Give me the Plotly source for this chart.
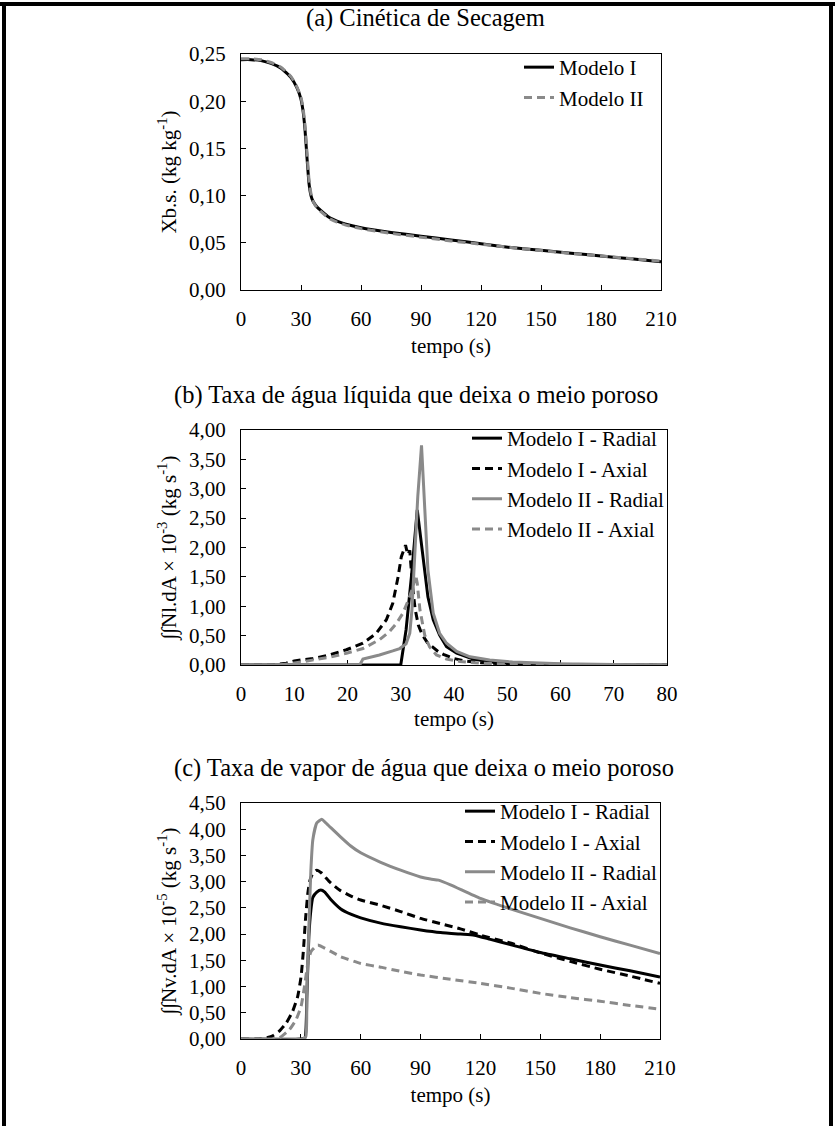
import plotly.graph_objects as go

# ---------------- data ----------------
# (a) drying kinetics
t_a = [0, 5, 10, 15, 20, 25, 28, 30, 31, 32, 33, 34, 35, 36, 38, 40, 44, 48, 52, 60,
       75, 90, 105, 120, 135, 150, 165, 180, 195, 210]
xbs_m1 = [0.244, 0.244, 0.243, 0.240, 0.235, 0.225, 0.214, 0.202, 0.190, 0.170, 0.140,
          0.113, 0.100, 0.094, 0.088, 0.084, 0.077, 0.073, 0.070, 0.066,
          0.061, 0.057, 0.053, 0.049, 0.045, 0.042, 0.039, 0.036, 0.033, 0.030]
xbs_m2 = [0.245, 0.245, 0.244, 0.241, 0.236, 0.226, 0.215, 0.204, 0.193, 0.175, 0.146,
          0.117, 0.102, 0.094, 0.087, 0.083, 0.076, 0.072, 0.069, 0.065,
          0.060, 0.056, 0.052, 0.0485, 0.045, 0.0418, 0.0388, 0.036, 0.0333, 0.0307]

# (b) liquid water rate (x 10^-3 kg/s)
t_b_m1r = [0, 29, 30, 31, 32, 33.1, 34.2, 35.1, 36.1, 37.3, 38.6, 40.5, 43.6, 48, 55, 60, 70, 80]
nl_m1r = [0, 0, 0, 0.6, 1.5, 2.64, 1.84, 1.16, 0.77, 0.51, 0.31, 0.20, 0.10, 0.04, 0.015, 0.008, 0.002, 0]

t_b_m1a = [0, 6, 8.5, 10, 13.5, 16.6, 19.8, 22.9, 25.4, 27.3, 28.5, 29.5, 30.1, 30.9, 31.3,
           31.7, 32.2, 32.7, 33.3, 34, 35, 36, 37, 38, 40, 42, 45, 50, 60, 80]
nl_m1a = [0, 0, 0.03, 0.07, 0.11, 0.17, 0.26, 0.37, 0.54, 0.77, 1.05, 1.5, 1.84, 2.04, 1.88,
          1.95, 1.35, 0.95, 0.68, 0.52, 0.38, 0.30, 0.23, 0.18, 0.11, 0.07, 0.04, 0.015, 0.005, 0]

t_b_m2r = [0, 22.3, 22.9, 26, 28.5, 29.8, 31, 31.7, 32.1, 32.6, 33.2, 33.9, 34.5, 35.1, 36.1,
           37.3, 38.6, 40.5, 43, 46.7, 51, 57.4, 60, 70, 80]
nl_m2r = [0, 0, 0.10, 0.17, 0.24, 0.28, 0.36, 0.54, 0.94, 1.84, 2.87, 3.74, 2.75, 1.62, 0.88,
          0.54, 0.37, 0.23, 0.14, 0.085, 0.05, 0.03, 0.02, 0.008, 0.003]

t_b_m2a = [0, 7, 9, 13.5, 16.6, 19.8, 22.9, 26, 27.9, 29.2, 30.4, 31.4, 32.3, 32.8, 33.1,
           33.6, 34.5, 35.4, 36.7, 38.6, 41.1, 45, 50, 60, 80]
nl_m2a = [0, 0, 0.02, 0.085, 0.13, 0.20, 0.28, 0.43, 0.57, 0.71, 0.88, 1.10, 1.33, 1.53, 1.39,
          0.94, 0.51, 0.31, 0.17, 0.10, 0.06, 0.03, 0.015, 0.005, 0]

# (c) vapour rate (x 10^-5 kg/s)
t_c_m1r = [0, 30, 32, 33, 34, 35, 36, 38, 40, 42, 45, 50, 55, 60, 70, 80, 90, 100, 110, 117,
           125, 135, 150, 165, 180, 195, 210]
nv_m1r = [0, 0, 0.02, 0.8, 1.95, 2.45, 2.70, 2.80, 2.84, 2.80, 2.66, 2.48, 2.38, 2.31, 2.21,
          2.14, 2.08, 2.03, 2.00, 1.98, 1.90, 1.80, 1.65, 1.53, 1.41, 1.30, 1.18]

t_c_m1a = [0, 10, 15.9, 19.2, 22.6, 25.9, 28.4, 30.1, 31.3, 32.3, 33.5, 34.6, 36, 38, 40.2,
           44.3, 49.4, 56, 60, 70, 80, 90, 100, 110, 120, 135, 150, 165, 180, 195, 210]
nv_m1a = [0, 0, 0.06, 0.15, 0.30, 0.53, 0.81, 1.19, 1.70, 2.27, 2.78, 3.03, 3.16, 3.22, 3.17,
          3.00, 2.84, 2.71, 2.65, 2.55, 2.43, 2.30, 2.20, 2.10, 1.98, 1.83, 1.64, 1.48, 1.33,
          1.20, 1.06]

t_c_m2r = [0, 31, 32.5, 33, 34, 35, 36, 38, 40.5, 42, 45, 50, 55, 60, 70, 80, 90, 95, 99,
           105, 120, 135, 150, 165, 180, 195, 210]
nv_m2r = [0, 0, 0.05, 0.9, 2.1, 3.2, 3.8, 4.12, 4.19, 4.14, 4.03, 3.85, 3.68, 3.55, 3.37,
          3.22, 3.09, 3.05, 3.03, 2.94, 2.68, 2.48, 2.30, 2.12, 1.95, 1.79, 1.63]

t_c_m2a = [0, 15, 19.2, 24.3, 27.6, 30.1, 31.8, 33.5, 35.1, 37.7, 38.5, 41, 45, 50, 60, 70,
           80, 90, 105, 120, 135, 150, 165, 180, 195, 210]
nv_m2a = [0, 0, 0.02, 0.18, 0.37, 0.62, 1.00, 1.44, 1.67, 1.77, 1.79, 1.75, 1.67, 1.57, 1.44,
          1.37, 1.29, 1.22, 1.14, 1.06, 0.97, 0.87, 0.79, 0.72, 0.64, 0.57]

# tick labels
xt_a = [0, 30, 60, 90, 120, 150, 180, 210]
xt_b = [0, 10, 20, 30, 40, 50, 60, 70, 80]
yt_a = [0, 0.05, 0.10, 0.15, 0.20, 0.25]
yl_a = ["0,00", "0,05", "0,10", "0,15", "0,20", "0,25"]
yt_b = [0, 0.5, 1, 1.5, 2, 2.5, 3, 3.5, 4]
yl_b = ["0,00", "0,50", "1,00", "1,50", "2,00", "2,50", "3,00", "3,50", "4,00"]
yt_c = [0, 0.5, 1, 1.5, 2, 2.5, 3, 3.5, 4, 4.5]
yl_c = ["0,00", "0,50", "1,00", "1,50", "2,00", "2,50", "3,00", "3,50", "4,00", "4,50"]

# ---------------- layout geometry ----------------
W, H = 835, 1126
L, R, T, B = 241, 168, 54, 87
PW, PH = W - L - R, H - T - B


def px(x):
    return (x - L) / PW


def py(y):
    return (H - B - y) / PH


FONT = "Liberation Serif, Times New Roman, serif"
BLACK = "#000000"
GRAY = "#8a8a8a"
DASH = "8px,5px"
LW = 3

fig = go.Figure()


def add(x, y, name, color, dash, xa, ya, leg, shape="linear"):
    fig.add_trace(go.Scatter(
        x=x, y=y, name=name, mode="lines", xaxis=xa, yaxis=ya, legend=leg,
        line=dict(color=color, width=LW, dash=dash, shape=shape,
                  smoothing=0.5 if shape == "spline" else None),
    ))


add(t_a, xbs_m1, "Modelo I", BLACK, "solid", "x", "y", "legend", "spline")
add(t_a, xbs_m2, "Modelo II", GRAY, DASH, "x", "y", "legend", "spline")

add(t_b_m1r, nl_m1r, "Modelo I - Radial", BLACK, "solid", "x2", "y2", "legend2")
add(t_b_m1a, nl_m1a, "Modelo I - Axial", BLACK, DASH, "x2", "y2", "legend2")
add(t_b_m2r, nl_m2r, "Modelo II - Radial", GRAY, "solid", "x2", "y2", "legend2")
add(t_b_m2a, nl_m2a, "Modelo II - Axial", GRAY, DASH, "x2", "y2", "legend2")

add(t_c_m1r, nv_m1r, "Modelo I - Radial", BLACK, "solid", "x3", "y3", "legend3", "spline")
add(t_c_m1a, nv_m1a, "Modelo I - Axial", BLACK, DASH, "x3", "y3", "legend3", "spline")
add(t_c_m2r, nv_m2r, "Modelo II - Radial", GRAY, "solid", "x3", "y3", "legend3", "spline")
add(t_c_m2a, nv_m2a, "Modelo II - Axial", GRAY, DASH, "x3", "y3", "legend3", "spline")

axis_common = dict(
    showline=True, mirror=True, linecolor=BLACK, linewidth=1,
    ticks="inside", ticklen=5, tickwidth=1, tickcolor=BLACK,
    showgrid=False, zeroline=False, ticklabelstandoff=10,
    tickfont=dict(family=FONT, size=21, color=BLACK),
)
title_font = dict(family=FONT, size=21, color=BLACK)

doms_y = {"a": [py(290), py(54)], "b": [py(665), py(430)], "c": [py(1039), py(803)]}

fig.update_layout(
    width=W, height=H,
    margin=dict(l=L, r=R, t=T, b=B, pad=0),
    paper_bgcolor="white", plot_bgcolor="white",
    font=dict(family=FONT, size=21, color=BLACK),
    xaxis=dict(axis_common, domain=[0, px(661)], range=[0, 210], tickvals=xt_a,
               anchor="y", title=dict(text="tempo (s)", font=title_font, standoff=8)),
    yaxis=dict(axis_common, domain=doms_y["a"], range=[0, 0.25], tickvals=yt_a,
               ticktext=yl_a, anchor="x",
               title=dict(text="Xb.s. (kg kg<sup>-1</sup>)", font=title_font, standoff=6)),
    xaxis2=dict(axis_common, domain=[0, 1], range=[0, 80], tickvals=xt_b, anchor="y2",
                layer="below traces",
                title=dict(text="tempo (s)", font=title_font, standoff=6)),
    yaxis2=dict(axis_common, domain=doms_y["b"], range=[0, 4], tickvals=yt_b,
                ticktext=yl_b, anchor="x2", layer="below traces",
                title=dict(text="∫∫Nl.dA × 10<sup>-3</sup> (kg s<sup>-1</sup>)",
                           font=title_font, standoff=6)),
    xaxis3=dict(axis_common, domain=[0, px(660)], range=[0, 210], tickvals=xt_a,
                anchor="y3", layer="below traces",
                title=dict(text="tempo (s)", font=title_font, standoff=8)),
    yaxis3=dict(axis_common, domain=doms_y["c"], range=[0, 4.5], tickvals=yt_c,
                ticktext=yl_c, anchor="x3", layer="below traces",
                title=dict(text="∫∫Nv.dA × 10<sup>-5</sup> (kg s<sup>-1</sup>)",
                           font=title_font, standoff=6)),
    showlegend=True,
)

leg_common = dict(bgcolor="rgba(0,0,0,0)", borderwidth=0,
                  font=dict(family=FONT, size=21, color=BLACK),
                  xanchor="right", yanchor="top", tracegroupgap=0)
fig.update_layout(
    legend=dict(leg_common, x=px(649), y=py(47)),
    legend2=dict(leg_common, x=px(670), y=py(418)),
    legend3=dict(leg_common, x=px(663), y=py(791)),
)

# panel titles
titles = [("(a) Cinética de Secagem", 425, 18),
          ("(b) Taxa de água líquida que deixa o meio poroso", 416, 395),
          ("(c) Taxa de vapor de água que deixa o meio poroso", 424, 768)]
for txt, cx, cy in titles:
    fig.add_annotation(text=txt, x=px(cx), y=py(cy), xref="paper", yref="paper",
                       showarrow=False, xanchor="center", yanchor="middle",
                       font=dict(family=FONT, size=24.5, color=BLACK))

# page frame lines
frame = [(0, 4, W, 4), (4, 2, 4, H), (831, 2, 831, H)]
for x0, y0, x1, y1 in frame:
    fig.add_shape(type="line", xref="paper", yref="paper",
                  x0=px(x0), y0=py(y0), x1=px(x1), y1=py(y1),
                  line=dict(color=BLACK, width=4))

fig.write_html("out.html")
